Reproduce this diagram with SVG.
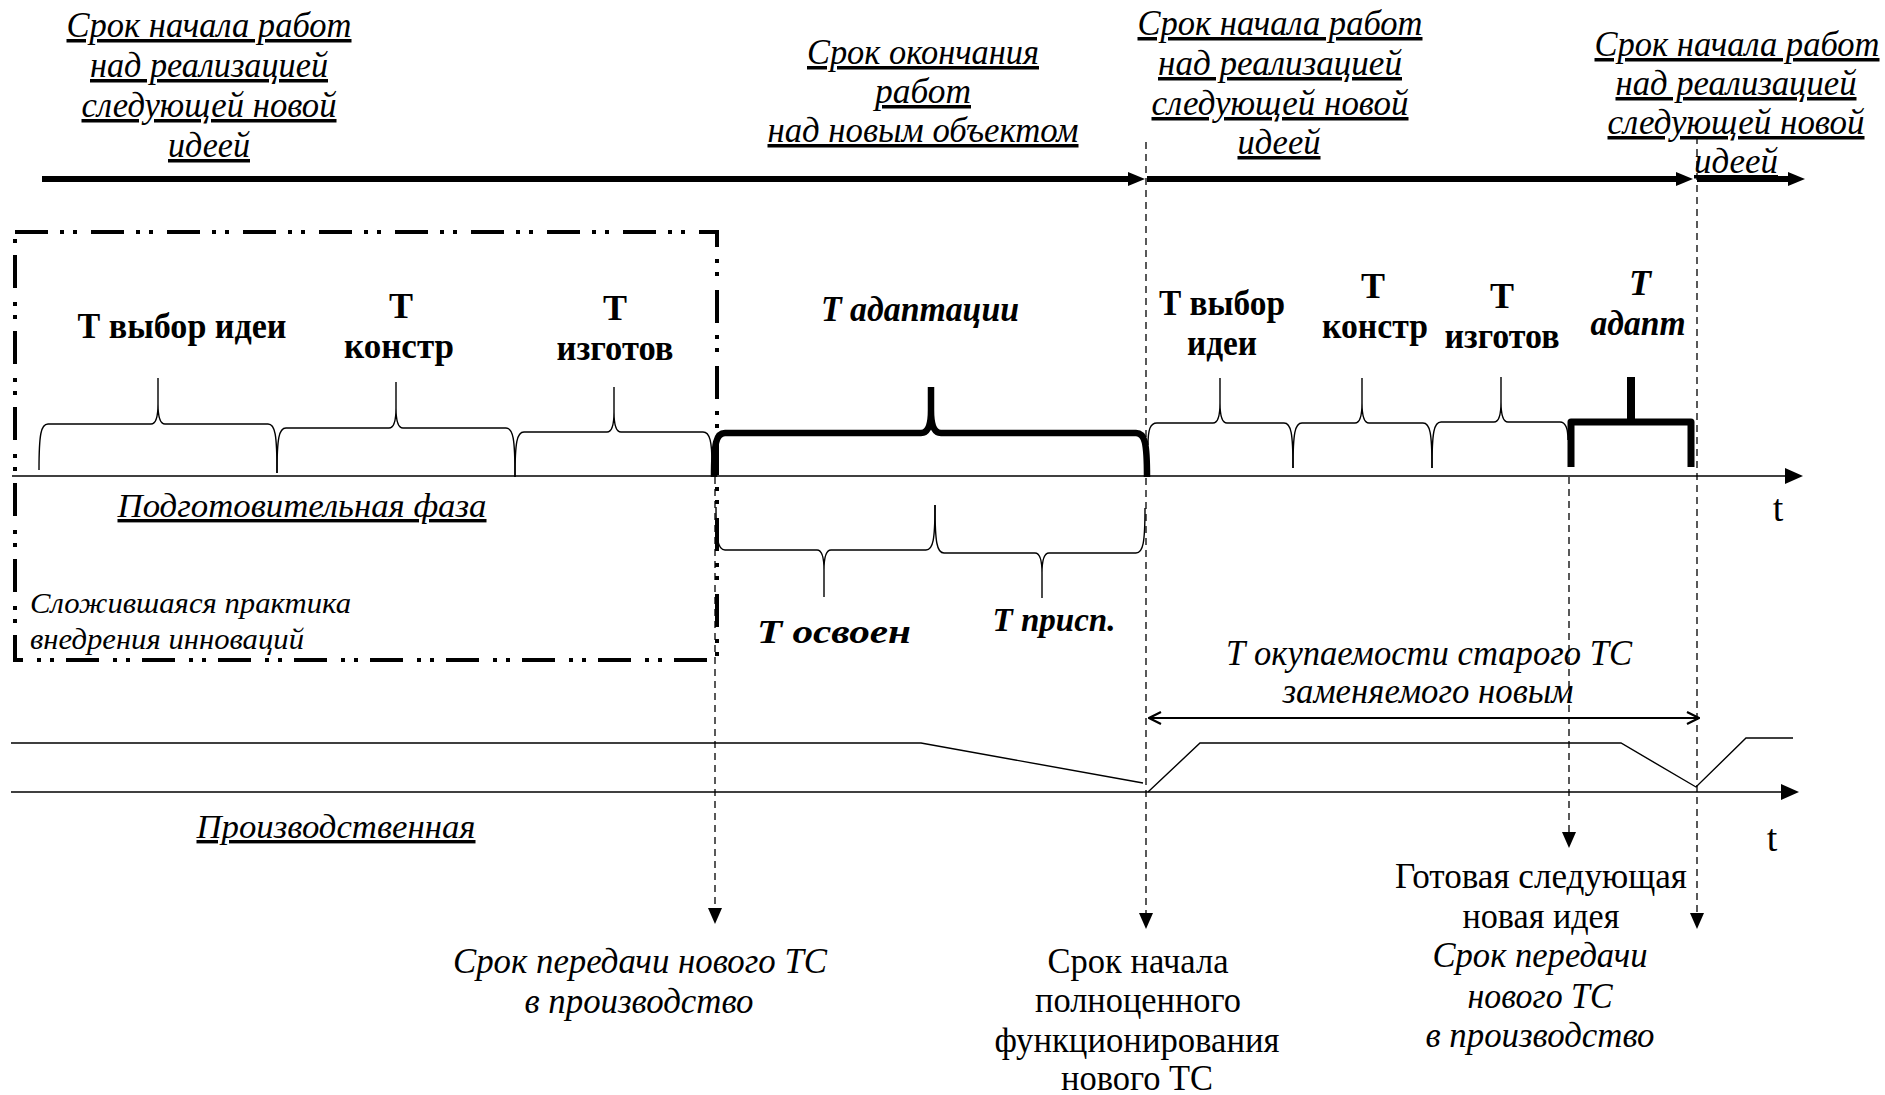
<svg xmlns="http://www.w3.org/2000/svg" width="1885" height="1095" viewBox="0 0 1885 1095">
<style>
text{font-family:"Liberation Serif","Times New Roman",serif;fill:#000;text-anchor:middle}
.it{font-style:italic}
.u{text-decoration:underline}
.b{font-weight:bold}
.top{font-size:35px}
.lbl{font-size:36px}
.low{font-size:35px}
.thin{fill:none;stroke:#000;stroke-width:1.4}
.brace{fill:none;stroke:#000;stroke-width:1.4;stroke-linejoin:round}
.thick{fill:none;stroke:#000;stroke-width:6.5;stroke-linejoin:round}
.dash{fill:none;stroke:#000;stroke-width:1.3;stroke-dasharray:7 5}
.box{fill:none;stroke:#000;stroke-width:4;stroke-dasharray:33 12 4 9 4 14}
.tl{stroke:#000;stroke-width:6}
</style>
<defs>
<marker id="mThick" markerUnits="userSpaceOnUse" viewBox="0 0 17 16" markerWidth="17" markerHeight="16" refX="6" refY="8" orient="auto"><path d="M0,1 L17,8 L0,15 z" fill="#000"/></marker>
<marker id="mAxis" markerUnits="userSpaceOnUse" viewBox="0 0 18 16" markerWidth="18" markerHeight="16" refX="4" refY="8" orient="auto"><path d="M0,0 L18,8 L0,16 z" fill="#000"/></marker>
<marker id="mDown" markerUnits="userSpaceOnUse" viewBox="0 0 16 14" markerWidth="16" markerHeight="14" refX="3" refY="7" orient="auto"><path d="M0,0 L16,7 L0,14 z" fill="#000"/></marker>
<marker id="mChev" markerUnits="userSpaceOnUse" viewBox="0 0 14 14" markerWidth="14" markerHeight="14" refX="13" refY="7" orient="auto-start-reverse"><path d="M1,1 L13,7 L1,13" fill="none" stroke="#000" stroke-width="2.2"/></marker>
</defs>

<g id="connectors">
  <!-- top thick timeline -->
  <line x1="42" y1="179" x2="1134" y2="179" class="tl" marker-end="url(#mThick)"/>
  <line x1="1147" y1="179" x2="1682" y2="179" class="tl" marker-end="url(#mThick)"/>
  <line x1="1697" y1="179" x2="1794" y2="179" class="tl" marker-end="url(#mThick)"/>
  <!-- axes -->
  <line x1="12" y1="476" x2="1789" y2="476" class="thin" stroke-width="1.8" marker-end="url(#mAxis)"/>
  <line x1="11" y1="792" x2="1785" y2="792" class="thin" stroke-width="1.8" marker-end="url(#mAxis)"/>
  <!-- vertical dashed arrows -->
  <line x1="1146" y1="142" x2="1146" y2="916" class="dash" marker-end="url(#mDown)"/>
  <line x1="1697" y1="137" x2="1697" y2="916" class="dash" marker-end="url(#mDown)"/>
  <line x1="715" y1="477" x2="715" y2="911" class="dash" marker-end="url(#mDown)"/>
  <line x1="1569" y1="477" x2="1569" y2="835" class="dash" marker-end="url(#mDown)"/>
  <!-- payback double arrow -->
  <line x1="1149" y1="718" x2="1699" y2="718" stroke="#000" stroke-width="2" marker-start="url(#mChev)" marker-end="url(#mChev)"/>
  <!-- production curve -->
  <polyline points="11,743 921,743 1143,783" class="thin" stroke-width="2"/>
  <polyline points="1148,792 1200,743 1621,743 1696,787 1746,738 1793,738" class="thin" stroke-width="2"/>
</g>

<g id="practice-box">
  <rect x="15" y="232" width="702" height="428" class="box"/>
  <text class="it" x="30" y="613" font-size="30" style="text-anchor:start" textLength="321" lengthAdjust="spacingAndGlyphs">Сложившаяся практика</text>
  <text class="it" x="30" y="649" font-size="30" style="text-anchor:start" textLength="274" lengthAdjust="spacingAndGlyphs">внедрения инноваций</text>
</g>

<g id="label-start-1">
  <text class="it u top" x="209" y="37" textLength="285" lengthAdjust="spacingAndGlyphs">Срок начала работ</text>
  <text class="it u top" x="209" y="77" textLength="238" lengthAdjust="spacingAndGlyphs">над реализацией</text>
  <text class="it u top" x="209" y="117" textLength="255" lengthAdjust="spacingAndGlyphs">следующей новой</text>
  <text class="it u top" x="209" y="157" textLength="82" lengthAdjust="spacingAndGlyphs">идеей</text>
</g>
<g id="label-end">
  <text class="it u top" x="923" y="64" textLength="232" lengthAdjust="spacingAndGlyphs">Срок окончания</text>
  <text class="it u top" x="923" y="103" textLength="96" lengthAdjust="spacingAndGlyphs">работ</text>
  <text class="it u top" x="923" y="142" textLength="311" lengthAdjust="spacingAndGlyphs">над новым объектом</text>
</g>
<g id="label-start-2">
  <text class="it u top" x="1280" y="35" textLength="285" lengthAdjust="spacingAndGlyphs">Срок начала работ</text>
  <text class="it u top" x="1280" y="75" textLength="244" lengthAdjust="spacingAndGlyphs">над реализацией</text>
  <text class="it u top" x="1280" y="115" textLength="257" lengthAdjust="spacingAndGlyphs">следующей новой</text>
  <text class="it u top" x="1279" y="154" textLength="83" lengthAdjust="spacingAndGlyphs">идеей</text>
</g>
<g id="label-start-3">
  <text class="it u top" x="1737" y="56" textLength="285" lengthAdjust="spacingAndGlyphs">Срок начала работ</text>
  <text class="it u top" x="1736" y="95" textLength="241" lengthAdjust="spacingAndGlyphs">над реализацией</text>
  <text class="it u top" x="1736" y="134" textLength="257" lengthAdjust="spacingAndGlyphs">следующей новой</text>
  <text class="it u top" x="1736" y="173" textLength="84" lengthAdjust="spacingAndGlyphs">идеей</text>
</g>

<g id="brace-idea-1">
  <path class="brace" d="M39,470 C39,434 41,424 48,424 L151,424 C156,424 158,418 158,404 L158,378 M158,404 C158,418 160,424 165,424 L268,424 C275,424 277,434 277,473"/>
  <text class="b lbl" x="182" y="338" textLength="209" lengthAdjust="spacingAndGlyphs">Т выбор идеи</text>
</g>
<g id="brace-design-1">
  <path class="brace" d="M277,473 C277,438 279,428 286,428 L389,428 C394,428 396,422 396,408 L396,382 M396,408 C396,422 398,428 403,428 L506,428 C513,428 515,438 515,477"/>
  <text class="b lbl" x="401" y="318">Т</text>
  <text class="b lbl" x="399" y="358" textLength="110" lengthAdjust="spacingAndGlyphs">констр</text>
</g>
<g id="brace-make-1">
  <path class="brace" d="M515,477 C515,442 517,432 524,432 L607,432 C612,432 614,426 614,412 L614,387 M614,412 C614,426 616,432 621,432 L703,432 C710,432 712,442 712,465"/>
  <text class="b lbl" x="615" y="320">Т</text>
  <text class="b lbl" x="615" y="360" textLength="117" lengthAdjust="spacingAndGlyphs">изготов</text>
</g>
<g id="brace-adapt-1">
  <path class="thick" d="M714,477 C714,443 716,433 725,433 L921,433 C928,433 931,426 931,410 L931,387 M931,410 C931,426 934,433 941,433 L1136,433 C1145,433 1147,443 1147,477"/>
  <text class="b it lbl" x="920" y="321" textLength="198" lengthAdjust="spacingAndGlyphs">Т адаптации</text>
</g>
<g id="brace-master">
  <path class="brace" d="M716,507 C716,540 718,550 725,550 L817,550 C822,550 824,556 824,570 L824,597 M824,570 C824,556 826,550 831,550 L926,550 C933,550 935,540 935,505"/>
  <text class="b it" x="834" y="643" font-size="34" textLength="154" lengthAdjust="spacingAndGlyphs">Т освоен</text>
</g>
<g id="brace-fit">
  <path class="brace" d="M935,505 C935,543 937,553 944,553 L1035,553 C1040,553 1042,559 1042,573 L1042,598 M1042,573 C1042,559 1044,553 1049,553 L1136,553 C1143,553 1145,543 1145,508"/>
  <text class="b it" x="1054" y="631" font-size="34" textLength="123" lengthAdjust="spacingAndGlyphs">Т присп.</text>
</g>
<g id="brace-idea-2">
  <path class="brace" d="M1148,445 C1148,430 1150,423 1157,423 L1213,423 C1218,423 1220,417 1220,403 L1220,378 M1220,403 C1220,417 1222,423 1227,423 L1284,423 C1291,423 1293,433 1293,468"/>
  <text class="b lbl" x="1222" y="315" textLength="126" lengthAdjust="spacingAndGlyphs">Т выбор</text>
  <text class="b lbl" x="1222" y="355" textLength="70" lengthAdjust="spacingAndGlyphs">идеи</text>
</g>
<g id="brace-design-2">
  <path class="brace" d="M1293,468 C1293,433 1295,423 1302,423 L1355,423 C1360,423 1362,417 1362,403 L1362,378 M1362,403 C1362,417 1364,423 1369,423 L1423,423 C1430,423 1432,433 1432,468"/>
  <text class="b lbl" x="1373" y="298">Т</text>
  <text class="b lbl" x="1375" y="338" textLength="106" lengthAdjust="spacingAndGlyphs">констр</text>
</g>
<g id="brace-make-2">
  <path class="brace" d="M1432,468 C1432,432 1434,422 1441,422 L1494,422 C1499,422 1501,416 1501,402 L1501,377 M1501,402 C1501,416 1503,422 1508,422 L1560,422 C1566,422 1568,430 1568,440"/>
  <text class="b lbl" x="1502" y="308">Т</text>
  <text class="b lbl" x="1502" y="348" textLength="115" lengthAdjust="spacingAndGlyphs">изготов</text>
</g>
<g id="brace-adapt-2">
  <path d="M1571,467 L1571,422 L1691,422 L1691,467" fill="none" stroke="#000" stroke-width="7" stroke-linejoin="round"/>
  <line x1="1631" y1="422" x2="1631" y2="377" stroke="#000" stroke-width="8"/>
  <text class="b it lbl" x="1640" y="295">Т</text>
  <text class="b it lbl" x="1638" y="335" textLength="95" lengthAdjust="spacingAndGlyphs">адапт</text>
</g>

<g id="phase-labels">
  <text class="it u" x="302" y="517" font-size="34" textLength="369" lengthAdjust="spacingAndGlyphs">Подготовительная фаза</text>
  <text class="it u" x="336" y="838" font-size="34" textLength="279" lengthAdjust="spacingAndGlyphs">Производственная</text>
  <text x="1778" y="521" font-size="38">t</text>
  <text x="1772" y="851" font-size="38">t</text>
</g>
<g id="label-payback">
  <text class="it low" x="1429" y="665" textLength="406" lengthAdjust="spacingAndGlyphs">Т окупаемости старого ТС</text>
  <text class="it low" x="1428" y="703" textLength="291" lengthAdjust="spacingAndGlyphs">заменяемого новым</text>
</g>
<g id="label-transfer-1">
  <text class="it low" x="640" y="973" textLength="374" lengthAdjust="spacingAndGlyphs">Срок передачи нового ТС</text>
  <text class="it low" x="639" y="1013" textLength="229" lengthAdjust="spacingAndGlyphs">в производство</text>
</g>
<g id="label-full-operation">
  <text class="low" x="1138" y="973" textLength="181" lengthAdjust="spacingAndGlyphs">Срок начала</text>
  <text class="low" x="1138" y="1012" textLength="206" lengthAdjust="spacingAndGlyphs">полноценного</text>
  <text class="low" x="1137" y="1052" textLength="285" lengthAdjust="spacingAndGlyphs">функционирования</text>
  <text class="low" x="1137" y="1090" textLength="152" lengthAdjust="spacingAndGlyphs">нового ТС</text>
</g>
<g id="label-next-idea">
  <text class="low" x="1541" y="888" textLength="292" lengthAdjust="spacingAndGlyphs">Готовая следующая</text>
  <text class="low" x="1541" y="928" textLength="157" lengthAdjust="spacingAndGlyphs">новая идея</text>
  <text class="it low" x="1540" y="967" textLength="215" lengthAdjust="spacingAndGlyphs">Срок передачи</text>
  <text class="it low" x="1540" y="1008" textLength="145" lengthAdjust="spacingAndGlyphs">нового ТС</text>
  <text class="it low" x="1540" y="1047" textLength="229" lengthAdjust="spacingAndGlyphs">в производство</text>
</g>
</svg>
